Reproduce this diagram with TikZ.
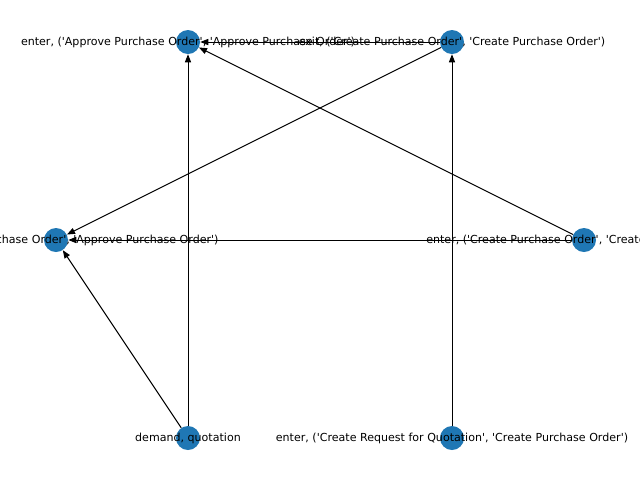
\documentclass[tikz,border=0pt]{standalone}
\usepackage{fontspec}
\setmainfont{DejaVu Sans}[Ligatures=TeXOff]
\usepackage{xcolor}
\usetikzlibrary{arrows.meta}
\definecolor{nxblue}{RGB}{31,119,180}
\tikzset{
  dot/.style={circle,fill=nxblue,draw=none,minimum size=18pt,inner sep=0pt},
  lbl/.style={inner sep=0pt,font=\fontsize{8.3}{10}\selectfont},
  edge/.style={line width=0.75pt,-{Triangle[length=6pt,width=4.6pt]}}
}
\begin{document}
\begin{tikzpicture}[x=0.75pt,y=0.75pt,yscale=-1,xscale=1]
\useasboundingbox (0,0) rectangle (640,480);
\clip (0,0) rectangle (640,480);
%Shape: Circle
\node[dot] (apo) at (188,42) {};
\node[dot] (cpo) at (452,42) {};
\node[dot] (xapo) at (56,240) {};
\node[dot] (ecpo) at (584,240) {};
\node[dot] (dq) at (188,438) {};
\node[dot] (erfq) at (452,438) {};
%Straight Lines
\draw[edge] (cpo) -- (apo);
\draw[edge] (ecpo) -- (apo);
\draw[edge] (dq) -- (apo);
\draw[edge] (cpo) -- (xapo);
\draw[edge] (ecpo) -- (xapo);
\draw[edge] (dq) -- (xapo);
\draw[edge] (erfq) -- (cpo);
% Text Node
\node[lbl] (apo-t) at (apo) {enter, ('Approve Purchase Order', 'Approve Purchase Order')};
% Text Node
\node[lbl] (cpo-t) at (cpo) {exit, ('Create Purchase Order', 'Create Purchase Order')};
% Text Node
\node[lbl] (xapo-t) at (xapo) {exit, ('Approve Purchase Order', 'Approve Purchase Order')};
% Text Node
\node[lbl] (ecpo-t) at (ecpo) {enter, ('Create Purchase Order', 'Create Purchase Order')};
% Text Node
\node[lbl] (dq-t) at (dq) {demand, quotation};
% Text Node
\node[lbl] (erfq-t) at (erfq) {enter, ('Create Request for Quotation', 'Create Purchase Order')};
\end{tikzpicture}
\end{document}
